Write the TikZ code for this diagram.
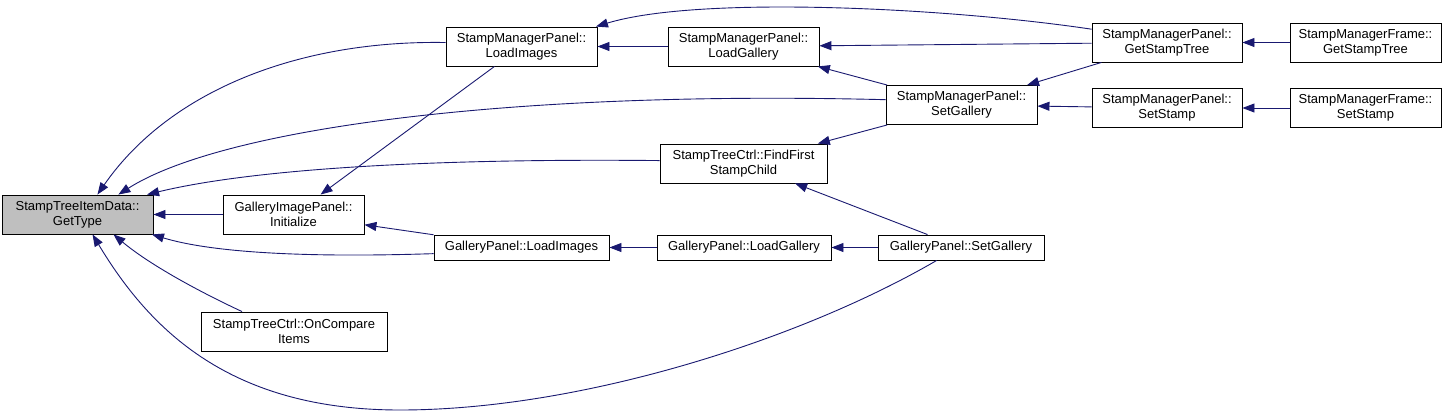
\documentclass[tikz,border=0pt]{standalone}
\usepackage{fontspec}
\setmainfont{Liberation Sans}
\usetikzlibrary{arrows.meta}
\definecolor{edgeblue}{HTML}{191970}
\definecolor{hlgray}{HTML}{BFBFBF}

\begin{document}
\begin{tikzpicture}[x=1pt, y=-1pt,
    fn/.style={draw=black, fill=white, line width=0.9pt, align=center, inner sep=0pt,
      minimum width=151pt, minimum height=39pt, font=\fontsize{13}{15}\selectfont},
    fnone/.style={fn, minimum height=25pt},
    call/.style={draw=edgeblue, line width=0.9pt, -{Triangle[length=12pt,width=9pt]}}]
  \useasboundingbox (0,0) rectangle (1451,415);
  % Funksjonsbokser
  \node[fn, fill=hlgray] (gettype) at (77.5,214.5) {StampTreeItemData::\\GetType};
  \node[fn] (smpli) at (521.5,46.5) {StampManagerPanel::\\LoadImages};
  \node[fn] (smplg) at (743.5,46.5) {StampManagerPanel::\\LoadGallery};
  \node[fn, minimum width=150pt] (smpgst) at (1167,42.5) {StampManagerPanel::\\GetStampTree};
  \node[fn] (smfgst) at (1365.5,42.5) {StampManagerFrame::\\GetStampTree};
  \node[fn] (smpsg) at (961.5,105) {StampManagerPanel::\\SetGallery};
  \node[fn, minimum width=150pt] (smpss) at (1167,108) {StampManagerPanel::\\SetStamp};
  \node[fn] (smfss) at (1365.5,108) {StampManagerFrame::\\SetStamp};
  \node[fn, minimum width=167pt] (findfirst) at (743.5,163.5) {StampTreeCtrl::FindFirst\\StampChild};
  \node[fn, minimum width=141pt] (init) at (293.5,214.5) {GalleryImagePanel::\\Initialize};
  \node[fnone, minimum width=175pt] (gpli) at (521.5,247.5) {GalleryPanel::LoadImages};
  \node[fnone, minimum width=174pt] (gplg) at (744,247.5) {GalleryPanel::LoadGallery};
  \node[fnone, minimum width=166pt] (gpsg) at (961,247.5) {GalleryPanel::SetGallery};
  \node[fn, minimum width=186pt] (oncmp) at (294,331.5) {StampTreeCtrl::OnCompare\\Items};
  % Kall inn mot GetType
  \draw[call] (smpli.177) .. controls (300,40) and (170,90) .. (gettype.45);
  \draw[call] (smpsg.176) .. controls (500,90) and (220,130) .. (gettype.26);
  \draw[call] (findfirst.178) .. controls (400,158) and (240,172) .. (gettype.16);
  \draw[call] (init) -- (gettype);
  \draw[call] (gpli.184) .. controls (300,258) and (210,252) .. (gettype.345);
  \draw[call] (oncmp.159) .. controls (200,292) and (150,265) .. (gettype.331);
  \draw[call] (gpsg.208) .. controls (800,340) and (580,410) .. (400,410)
    .. controls (230,410) and (150,330) .. (gettype.307);
  % Øvrige kall
  \draw[call] (smpli) -- (init);
  \draw[call] (gpli) -- (init);
  \draw[call] (smplg) -- (smpli);
  \draw[call] (smpgst.170) .. controls (950,8) and (700,-5) .. (smpli.15);
  \draw[call] (smpgst) -- (smplg);
  \draw[call] (smpsg) -- (smplg);
  \draw[call] (smfgst) -- (smpgst);
  \draw[call] (smpgst) -- (smpsg);
  \draw[call] (smpss) -- (smpsg);
  \draw[call] (smfss) -- (smpss);
  \draw[call] (smpsg) -- (findfirst);
  \draw[call] (gpsg) -- (findfirst);
  \draw[call] (gplg) -- (gpli);
  \draw[call] (gpsg) -- (gplg);
\end{tikzpicture}
\end{document}
